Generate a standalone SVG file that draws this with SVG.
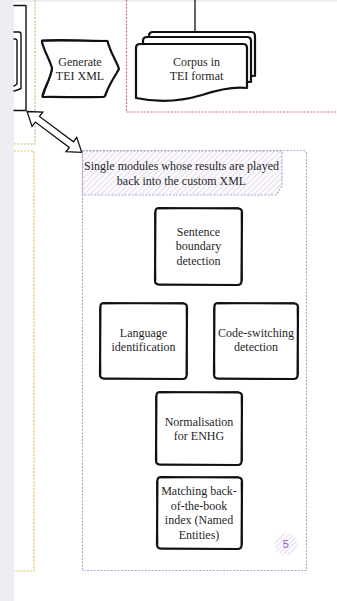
<svg xmlns="http://www.w3.org/2000/svg" width="337" height="601" viewBox="0 0 337 601">
  <style>
    .lbl { font-family: "Liberation Serif", "Times New Roman", serif; font-size: 12px; fill: #1f1f1f; text-anchor: middle; }
    .sk { fill: #ffffff; stroke: #111111; stroke-width: 2.2; stroke-linejoin: round; stroke-linecap: round; }
    .sk2 { fill: none; stroke: #111111; stroke-width: 0.9; stroke-linejoin: round; stroke-linecap: round; }
    .thin { fill: none; stroke: #111111; stroke-width: 1.4; stroke-linecap: round; stroke-linejoin: round; }
    .dot { fill: none; stroke-width: 1.2; stroke-dasharray: 2 1.4; }
  </style>
  <defs>
    <pattern id="hatch" width="4" height="4" patternUnits="userSpaceOnUse" patternTransform="rotate(45)">
      <line x1="1" y1="0" x2="1" y2="4" stroke="#e6dcef" stroke-width="1.3"/>
    </pattern>
    <pattern id="hatch2" width="3.5" height="3.5" patternUnits="userSpaceOnUse" patternTransform="rotate(45)">
      <line x1="1" y1="0" x2="1" y2="3.5" stroke="#e8def3" stroke-width="1.3"/>
    </pattern>
  </defs>

  <!-- canvas -->
  <rect x="0" y="0" width="337" height="601" fill="#ffffff"/>
  <rect x="0" y="0" width="337" height="2" fill="#eceef1"/>
  <rect x="0" y="0" width="14" height="601" fill="#eceef1"/>

  <!-- group frames -->
  <g id="frames">
    <path class="dot" stroke="#9fcb86" d="M35,0 V144 H14"/>
    <path class="dot" stroke="#e3c250" d="M14,151 H34 V571 H14"/>
    <path class="dot" stroke="#c9716d" d="M126.5,0 V112 H337"/>
    <path class="dot" stroke="#b5a2cf" d="M82.5,150.5 H303.5 Q306.5,150.5 306.5,153.5 V570.5 H82.5 Z"/>
  </g>

  <!-- partially visible document stack -->
  <g id="node-left-doc">
    <path class="thin" d="M14,5.5 H25.5 Q26,5.5 26,6 V110.5 H14"/>
    <path class="thin" d="M14,32 H19 Q21,32 21,34.5 V88.5 C19,89.5 16.5,90.5 14,91"/>
    <path class="thin" d="M14,39 H15 Q17,39 17,41 V84 C16,85 15,85.5 14,86"/>
  </g>

  <!-- connectors -->
  <g id="connectors">
    <line x1="195" y1="0" x2="195" y2="32" stroke="#111111" stroke-width="1.3"/>
    <polygon transform="translate(27,111.5) rotate(36.7)" fill="#ffffff" stroke="#111111" stroke-width="1.3" stroke-linejoin="miter"
      points="0,0 13,-9 13,-3.5 55.3,-3.5 55.3,-9 68.3,0 55.3,9 55.3,3.5 13,3.5 13,9"/>
  </g>

  <g id="node-generate">
    <path class="sk" d="M42,40.5 C62,39.5 86,40.8 107.5,41 C110,52 116,60 119,69 C114,78 108,86 105,96 Q104.5,97 103,97 C84,97.5 62,96.8 43.5,97 Q42,97 42.5,95.5 C45,86 51,78 52,68 C49,58 44,51 42,42 Q41.8,40.6 42,40.5 Z"/>
    <path class="sk2" d="M42.6,41.2 C62,40.6 86,41.4 107,40.4 M118.4,69.4 C113,79 108.6,86.6 105.6,96.2 M43.2,96.4 C46,86.4 51.4,77.6 52.6,68.6"/>
    <text class="lbl" x="80" y="65.5">Generate</text>
    <text class="lbl" x="80" y="80">TEI XML</text>
  </g>

  <g id="node-corpus">
    <path class="sk" d="M149,36 Q149,32 153,32 L251,32 Q255,32 255,36 L255,76 C240,74 225,78 210,83 C190,89 170,91 149,86 Z"/>
    <path class="sk" d="M143,41 Q143,37 147,37 L247,37 Q251,37 251,41 L251,82 C236,80 221,84 206,89 C186,95 166,97 143,92 Z"/>
    <path class="sk" d="M136,48 Q136,44 140,44 L243,44 Q247,44 247,48 L247,88 C232,86 217,90 202,95 C182,101 160,103 136,98 Z"/>
    <path class="sk2" d="M140.5,44.6 L242.5,43.6 M247.5,48.5 L246.6,87.6 M135.6,48.5 L136.5,97.5"/>
    <text class="lbl" x="196.5" y="65.5">Corpus in</text>
    <text class="lbl" x="196.5" y="80">TEI format</text>
  </g>

  <g id="frame-label">
    <path d="M82.5,151 H282 V186 L276,195 H82.5 Z" fill="url(#hatch)" stroke="#b5a2cf" stroke-width="1.2" stroke-dasharray="2 1.4"/>
    <text class="lbl" x="181.5" y="170">Single modules whose results are played</text>
    <text class="lbl" x="181.5" y="184.5">back into the custom XML</text>
  </g>

  <g id="node-sentence">
    <path class="sk" d="M159,208 L238,208.5 Q242,208.5 242,212.5 L241.5,281 Q241.5,285 237.5,285 L159,284.6 Q155,284.6 155,280.6 L155.4,212 Q155.4,208 159,208 Z"/>
    <path class="sk2" d="M158.6,208.8 L238.4,207.6 M241.2,213 L242.4,280.4 M154.6,212.6 L155.8,280"/>
    <text class="lbl" x="198.5" y="236">Sentence</text>
    <text class="lbl" x="198.5" y="250.4">boundary</text>
    <text class="lbl" x="198.5" y="264.8">detection</text>
  </g>

  <g id="node-language">
    <path class="sk" d="M104,303 L183,303.5 Q187,303.5 187,307.5 L186.6,375 Q186.6,379 182.6,379 L104,378.6 Q100,378.6 100,374.6 L100.4,307 Q100.4,303 104,303 Z"/>
    <path class="sk2" d="M103.6,303.8 L183.4,302.6 M186.2,308 L187.4,374.4 M99.6,307.6 L100.8,374"/>
    <text class="lbl" x="143.5" y="337">Language</text>
    <text class="lbl" x="143.5" y="351.4">identification</text>
  </g>

  <g id="node-codeswitch">
    <path class="sk" d="M218,303 L294,303.5 Q298,303.5 298,307.5 L297.6,375 Q297.6,379 293.6,379 L218,378.6 Q214,378.6 214,374.6 L214.4,307 Q214.4,303 218,303 Z"/>
    <path class="sk2" d="M217.6,303.8 L294.4,302.6 M297.2,308 L298.4,374.4 M213.6,307.6 L214.8,374"/>
    <text class="lbl" x="256" y="337">Code-switching</text>
    <text class="lbl" x="256" y="351.4">detection</text>
  </g>

  <g id="node-normalisation">
    <path class="sk" d="M160,392 L238,392.5 Q242,392.5 242,396.5 L241.6,461 Q241.6,465 237.6,465 L160,464.6 Q156,464.6 156,460.6 L156.4,396 Q156.4,392 160,392 Z"/>
    <path class="sk2" d="M159.6,392.8 L238.4,391.6 M241.2,397 L242.4,460.4 M155.6,396.6 L156.8,460"/>
    <text class="lbl" x="199" y="425.6">Normalisation</text>
    <text class="lbl" x="199" y="440">for ENHG</text>
  </g>

  <g id="node-matching">
    <path class="sk" d="M161,477 L238,477.5 Q242,477.5 242,481.5 L241.6,545 Q241.6,549 237.6,549 L161,548.6 Q157,548.6 157,544.6 L157.4,481 Q157.4,477 161,477 Z"/>
    <path class="sk2" d="M160.6,477.8 L238.4,476.6 M241.2,482 L242.4,544.4 M156.6,481.6 L157.8,544"/>
    <text class="lbl" x="199" y="495">Matching back-</text>
    <text class="lbl" x="199" y="509.5">of-the-book</text>
    <text class="lbl" x="199" y="524">index (Named</text>
    <text class="lbl" x="199" y="538.5">Entities)</text>
  </g>

  <g id="badge-5">
    <circle cx="286" cy="544" r="11.5" fill="url(#hatch2)"/>
    <text x="285.8" y="548" font-family="'Liberation Sans', Arial, sans-serif" font-size="11" fill="#8a5cc9" text-anchor="middle">5</text>
  </g>
</svg>
